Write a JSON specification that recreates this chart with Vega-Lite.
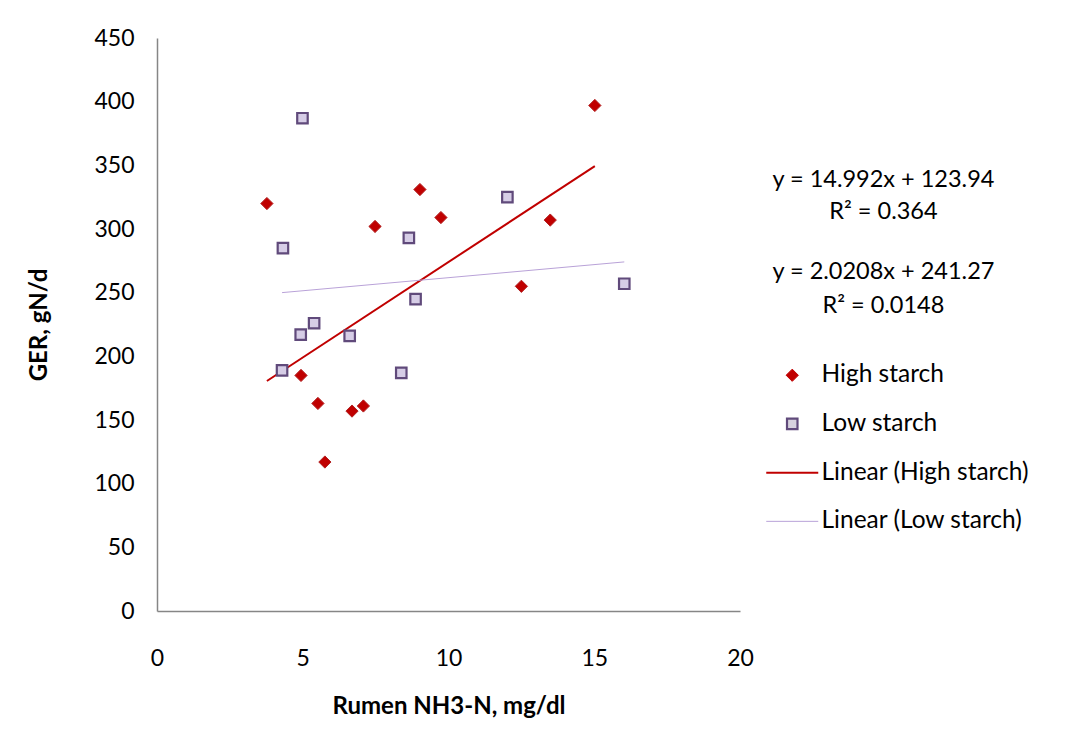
{
  "$schema": "https://vega.github.io/schema/vega-lite/v6.json",
  "width": 583,
  "height": 573,
  "autosize": "none",
  "padding": {"left": 157, "top": 38, "right": 343, "bottom": 140},
  "background": "white",
  "config": {
    "font": "Lato",
    "view": {"stroke": null},
    "axis": {
      "ticks": false,
      "grid": false,
      "labelFlush": false,
      "domainColor": "#868686",
      "domainWidth": 1.5,
      "labelFont": "Lato",
      "labelFontSize": 23,
      "labelColor": "#000000",
      "titleFont": "Lato",
      "titleFontSize": 24,
      "titleFontWeight": "bold",
      "titleColor": "#000000"
    }
  },
  "datasets": {
    "pts": [
      {"x": 3.77, "y": 320, "series": "High starch", "trend": "Linear (High starch)"},
      {"x": 4.94, "y": 185, "series": "High starch", "trend": "Linear (High starch)"},
      {"x": 5.52, "y": 163, "series": "High starch", "trend": "Linear (High starch)"},
      {"x": 5.76, "y": 117, "series": "High starch", "trend": "Linear (High starch)"},
      {"x": 6.69, "y": 157, "series": "High starch", "trend": "Linear (High starch)"},
      {"x": 7.08, "y": 161, "series": "High starch", "trend": "Linear (High starch)"},
      {"x": 7.48, "y": 302, "series": "High starch", "trend": "Linear (High starch)"},
      {"x": 9.02, "y": 331, "series": "High starch", "trend": "Linear (High starch)"},
      {"x": 9.74, "y": 309, "series": "High starch", "trend": "Linear (High starch)"},
      {"x": 12.5, "y": 255, "series": "High starch", "trend": "Linear (High starch)"},
      {"x": 13.49, "y": 307, "series": "High starch", "trend": "Linear (High starch)"},
      {"x": 15.02, "y": 397, "series": "High starch", "trend": "Linear (High starch)"},
      {"x": 4.99, "y": 387, "series": "Low starch", "trend": "Linear (Low starch)"},
      {"x": 4.32, "y": 285, "series": "Low starch", "trend": "Linear (Low starch)"},
      {"x": 8.64, "y": 293, "series": "Low starch", "trend": "Linear (Low starch)"},
      {"x": 8.87, "y": 245, "series": "Low starch", "trend": "Linear (Low starch)"},
      {"x": 5.39, "y": 226, "series": "Low starch", "trend": "Linear (Low starch)"},
      {"x": 4.93, "y": 217, "series": "Low starch", "trend": "Linear (Low starch)"},
      {"x": 6.61, "y": 216, "series": "Low starch", "trend": "Linear (Low starch)"},
      {"x": 4.29, "y": 189, "series": "Low starch", "trend": "Linear (Low starch)"},
      {"x": 8.38, "y": 187, "series": "Low starch", "trend": "Linear (Low starch)"},
      {"x": 12.02, "y": 325, "series": "Low starch", "trend": "Linear (Low starch)"},
      {"x": 16.03, "y": 257, "series": "Low starch", "trend": "Linear (Low starch)"}
    ]
  },
  "data": {"name": "pts"},
  "layer": [
    {
      "transform": [{"regression": "y", "on": "x", "groupby": ["trend"]}],
      "mark": {"type": "line", "clip": false},
      "encoding": {
        "x": {
          "field": "x",
          "type": "quantitative",
          "scale": {"domain": [0, 20], "nice": false},
          "axis": {"values": [0, 5, 10, 15, 20], "labelPadding": 36, "titlePadding": 24, "title": "Rumen NH3-N, mg/dl"}
        },
        "y": {
          "field": "y",
          "type": "quantitative",
          "scale": {"domain": [0, 450], "nice": false},
          "axis": {"values": [0, 50, 100, 150, 200, 250, 300, 350, 400, 450], "labelPadding": 23, "titlePadding": 42, "title": "GER, gN/d"}
        },
        "color": {
          "field": "trend",
          "type": "nominal",
          "scale": {
            "domain": ["High starch", "Low starch", "Linear (High starch)", "Linear (Low starch)"],
            "range": ["#c00000", "#604a7b", "#c00000", "#b9a2d8"]
          },
          "legend": {
            "title": null,
            "orient": "none",
            "legendX": 623,
            "legendY": 325,
            "direction": "vertical",
            "labelFont": "Lato",
            "labelFontSize": 24.5,
            "labelLimit": 400,
            "labelColor": "#000000",
            "labelOffset": 17,
            "rowPadding": 23.7,
            "symbolSize": 2704,
            "symbolStrokeWidth": 2,
            "encode": {
              "symbols": {
                "update": {
                  "shape": {"signal": "datum.value === 'High starch' ? 'diamond' : datum.value === 'Low starch' ? 'square' : 'stroke'"},
                  "size": {"signal": "datum.value === 'High starch' ? 150 : datum.value === 'Low starch' ? 110 : 2704"},
                  "fillOpacity": {"signal": "datum.value === 'Low starch' ? 0.25 : 1"},
                  "strokeOpacity": {"value": 1},
                  "strokeWidth": {"signal": "datum.value === 'High starch' ? 1 : datum.value === 'Low starch' ? 2.2 : datum.value === 'Linear (High starch)' ? 2 : 1"},
                  "opacity": {"value": 1}
                }
              }
            }
          }
        },
        "strokeWidth": {
          "field": "trend",
          "type": "nominal",
          "scale": {"domain": ["Linear (High starch)", "Linear (Low starch)"], "range": [2, 1]},
          "legend": null
        }
      }
    },
    {
      "transform": [{"filter": "datum.series === 'High starch'"}],
      "mark": {"type": "point", "shape": "diamond", "filled": true, "size": 150, "stroke": "#b22222", "strokeWidth": 1, "opacity": 1},
      "encoding": {
        "x": {"field": "x", "type": "quantitative"},
        "y": {"field": "y", "type": "quantitative"},
        "color": {"field": "series", "type": "nominal"}
      }
    },
    {
      "transform": [{"filter": "datum.series === 'Low starch'"}],
      "mark": {"type": "point", "shape": "square", "filled": false, "fill": "#d6cde6", "size": 110, "strokeWidth": 2.2, "opacity": 1},
      "encoding": {
        "x": {"field": "x", "type": "quantitative"},
        "y": {"field": "y", "type": "quantitative"},
        "color": {"field": "series", "type": "nominal"}
      }
    },
    {
      "transform": [{"aggregate": [{"op": "count", "as": "n"}]}],
      "mark": {"type": "text", "font": "Lato", "fontSize": 23.5, "align": "center", "baseline": "middle", "color": "#000000"},
      "encoding": {
        "x": {"datum": 24.92, "type": "quantitative"},
        "y": {"datum": 338.5, "type": "quantitative"},
        "text": {"value": "y = 14.992x + 123.94"}
      }
    },
    {
      "transform": [{"aggregate": [{"op": "count", "as": "n"}]}],
      "mark": {"type": "text", "font": "Lato", "fontSize": 23.5, "align": "center", "baseline": "middle", "color": "#000000"},
      "encoding": {
        "x": {"datum": 24.92, "type": "quantitative"},
        "y": {"datum": 313.6, "type": "quantitative"},
        "text": {"value": "R² = 0.364"}
      }
    },
    {
      "transform": [{"aggregate": [{"op": "count", "as": "n"}]}],
      "mark": {"type": "text", "font": "Lato", "fontSize": 23.5, "align": "center", "baseline": "middle", "color": "#000000"},
      "encoding": {
        "x": {"datum": 24.92, "type": "quantitative"},
        "y": {"datum": 266.5, "type": "quantitative"},
        "text": {"value": "y = 2.0208x + 241.27"}
      }
    },
    {
      "transform": [{"aggregate": [{"op": "count", "as": "n"}]}],
      "mark": {"type": "text", "font": "Lato", "fontSize": 23.5, "align": "center", "baseline": "middle", "color": "#000000"},
      "encoding": {
        "x": {"datum": 24.92, "type": "quantitative"},
        "y": {"datum": 239.6, "type": "quantitative"},
        "text": {"value": "R² = 0.0148"}
      }
    }
  ]
}
